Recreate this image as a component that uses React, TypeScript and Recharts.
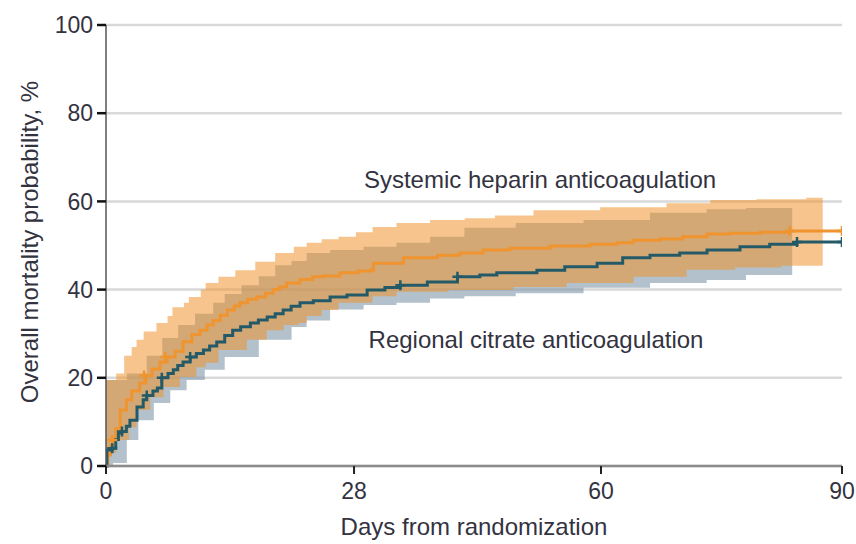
import React from "react";
import {
  ComposedChart,
  Area,
  Line,
  Scatter,
  XAxis,
  YAxis,
  CartesianGrid,
} from "recharts";

// x axis: the printed ticks 0 / 28 / 60 / 90 sit almost evenly spaced
const dayTicks = [0, 28, 60, 90];
const tickPos = [0, 30.33, 60.53, 90];
const pctTicks = [0, 20, 40, 60, 80, 100];

// Systemic heparin anticoagulation – cumulative mortality, %
const heparinDays = [0, 0.2, 0.5, 0.7, 1.1, 1.6, 2.3, 2.9, 3.8, 4.5, 5.2, 6.1, 6.9, 7.8, 8.7, 9.7, 10.6, 11.4, 12.1, 12.9, 13.7, 14.5, 15.1, 16.0, 17.0, 18.0, 18.9, 19.6, 20.4, 21.9, 23.3, 24.5, 26.4, 28.5, 30.1, 30.5, 34.4, 38.8, 41.7, 44.7, 48.2, 53.4, 58.6, 62.0, 64.0, 67.3, 70.2, 73.2, 76.1, 79.8, 83.5, 90];
const heparinPct = [0, 2.5, 4.5, 5.9, 8.5, 12.7, 15.0, 17.0, 18.8, 20.5, 22.0, 23.6, 24.7, 26.0, 28.2, 29.8, 30.8, 32.0, 33.0, 34.2, 35.4, 36.3, 37.0, 37.8, 38.3, 39.2, 40.0, 40.6, 41.5, 42.3, 42.9, 43.1, 43.8, 44.2, 44.4, 46.0, 47.2, 47.8, 48.3, 49.0, 49.4, 49.9, 50.3, 50.6, 51.2, 51.5, 52.0, 52.6, 52.8, 53.0, 53.3, 53.3];
const heparinCensorDays = [0.7, 4.3, 6.7, 83.5, 90];
const heparinCensorPct = [5.9, 20.5, 24.7, 53.3, 53.3];

// heparin 95% CI
const heparinCiDays = [0, 0.7, 1.6, 2.5, 2.7, 3.1, 3.8, 4.7, 5.3, 6.1, 6.9, 7.0, 8.0, 8.7, 8.9, 9.8, 10.6, 10.8, 11.7, 13.7, 15.5, 16.3, 17.4, 18.9, 19.3, 20.8, 21.6, 21.9, 23.4, 25.3, 27.2, 29.4, 31.4, 35.6, 40.1, 40.4, 44.3, 48.2, 49.1, 53.4, 57.7, 62.0, 66.1, 70.2, 71.1, 76.1, 77.3, 81.4, 83.5, 87.6];
const heparinCiLow = [0, 3, 5.9, 5.9, 8.8, 8.8, 12.7, 12.7, 15.6, 15.6, 17.9, 17.9, 17.9, 20.2, 20.2, 20.2, 22.4, 22.4, 23.4, 26.3, 26.3, 28.6, 28.6, 30.8, 30.8, 32, 32, 32.4, 34, 35.4, 37, 37, 38.5, 39.5, 39.5, 39.9, 39.9, 39.9, 40.6, 40.6, 41.5, 41.5, 42.9, 42.9, 44.5, 44.5, 45, 45, 45.4, 45.4];
const heparinCiHigh = [19.5, 19.5, 21, 25, 25, 27, 28.6, 30.5, 30.5, 32.4, 32.4, 34, 36, 36, 37, 38.3, 38.3, 40, 41.5, 42.9, 44.4, 44.4, 46.3, 46.3, 48.3, 48.3, 49.7, 49.7, 50.6, 51.4, 52, 53, 54.2, 55.1, 55.8, 55.8, 56.2, 56.8, 56.8, 58, 58, 58.7, 58.7, 59.6, 59.6, 60.3, 60.3, 60.5, 60.5, 60.8];

// Regional citrate anticoagulation – cumulative mortality, %
const citrateDays = [0, 0.1, 0.7, 1.1, 1.4, 1.8, 2.3, 2.7, 3.5, 4.2, 4.6, 5.3, 5.8, 6.3, 7.0, 7.6, 8.1, 8.7, 9.5, 10.2, 11.0, 11.7, 12.5, 13.4, 14.3, 15.2, 16.3, 17.2, 18.2, 19.1, 20.0, 20.9, 21.9, 23.4, 25.3, 27.2, 29.7, 32.0, 34.0, 37.5, 41.4, 44.3, 46.5, 51.7, 55.3, 59.5, 62.7, 66.1, 69.8, 73.2, 77.3, 81.0, 84.4, 90];
const citratePct = [0, 3.6, 4.0, 6.0, 7.5, 7.8, 9.0, 10.4, 13.4, 15.0, 16.0, 17.0, 17.7, 20.0, 21.0, 21.8, 22.8, 23.6, 24.7, 25.5, 26.3, 27.2, 28.1, 29.6, 30.8, 31.6, 32.4, 33.1, 33.8, 34.5, 35.4, 36.2, 37.0, 37.5, 38.3, 38.8, 39.9, 40.5, 41.0, 41.7, 42.9, 43.3, 43.8, 44.4, 45.2, 46.0, 47.2, 47.8, 48.3, 49.0, 49.7, 50.3, 50.8, 50.8];
const citrateCensorDays = [0.7, 1.8, 4.6, 6.3, 9.5, 34.0, 41.4, 84.4, 90];
const citrateCensorPct = [4.0, 7.8, 16.0, 20.0, 24.7, 41.0, 42.9, 50.8, 50.8];

// citrate 95% CI
const citrateCiDays = [0, 1.6, 3.1, 4.2, 5.0, 5.8, 6.9, 7.6, 8.7, 9.5, 10.6, 11.7, 12.5, 14.3, 16.3, 18.2, 20.0, 21.9, 23.4, 27.2, 31.4, 35.6, 40.1, 44.5, 53.4, 62.0, 70.2, 76.1, 80.0, 83.8];
const citrateCiLow = [0, 0.7, 5.9, 10.4, 10.4, 14.3, 14.3, 17.2, 17.2, 19.5, 19.5, 21.8, 21.8, 24.7, 24.7, 28.6, 28.6, 31.5, 33, 35.5, 36.5, 37, 38, 38.5, 39.2, 40.4, 41.5, 42.2, 43.3, 43.3];
const citrateCiHigh = [19.5, 19.5, 21, 21, 25, 25, 29, 29, 32, 32, 34.5, 34.5, 37, 39, 41, 43, 45.5, 46.5, 48.3, 49, 49.7, 50.6, 52, 54, 55.1, 55.8, 57.4, 58.2, 58.5, 58.5];

const FONT = "'Liberation Sans', Arial, sans-serif";
const TEXT = "#33333f";
const ORANGE = "#ef942e";
const TEAL = "#245a67";

// day -> position on the (piecewise) printed axis
const toPos = (d: number) => {
  for (let i = 0; i < dayTicks.length - 1; i++) {
    if (d <= dayTicks[i + 1]) {
      const f = (d - dayTicks[i]) / (dayTicks[i + 1] - dayTicks[i]);
      return tickPos[i] + f * (tickPos[i + 1] - tickPos[i]);
    }
  }
  return tickPos[tickPos.length - 1];
};

const curve = (days: number[], pct: number[]) =>
  days.map((d, i) => ({ u: toPos(d), y: pct[i] }));
const band = (days: number[], lo: number[], hi: number[]) =>
  days.map((d, i) => ({ u: toPos(d), range: [lo[i], hi[i]] }));

const heparinLine = curve(heparinDays, heparinPct);
const citrateLine = curve(citrateDays, citratePct);
const heparinBand = band(heparinCiDays, heparinCiLow, heparinCiHigh);
const citrateBand = band(citrateCiDays, citrateCiLow, citrateCiHigh);
const heparinCensor = curve(heparinCensorDays, heparinCensorPct);
const citrateCensor = curve(citrateCensorDays, citrateCensorPct);

const plus = (color: string) => (p: any) => (
  <path
    d={`M${p.cx - 5},${p.cy}h10M${p.cx},${p.cy - 5}v10`}
    stroke={color}
    strokeWidth={2.5}
    fill="none"
  />
);

const label = (cx: number, cy: number, rotate = 0): React.CSSProperties => ({
  position: "absolute",
  left: cx,
  top: cy,
  transform: `translate(-50%, -50%) rotate(${rotate}deg)`,
  whiteSpace: "nowrap",
  lineHeight: 1,
  fontSize: 24,
});

export default function App() {
  return (
    <div
      style={{
        position: "relative",
        width: 856,
        height: 544,
        background: "#fff",
        fontFamily: FONT,
        color: TEXT,
      }}
    >
      <style>{"body{margin:0}"}</style>
      <ComposedChart
        width={856}
        height={544}
        margin={{ top: 25, right: 14, bottom: 0, left: 0 }}
      >
        <CartesianGrid vertical={false} stroke="#d9d9d9" strokeWidth={2.5} />
        <XAxis
          type="number"
          dataKey="u"
          domain={[0, 90]}
          ticks={tickPos}
          tickFormatter={(_v: number, i: number) => String(dayTicks[i])}
          height={78}
          tickSize={8}
          tickMargin={9}
          axisLine={{ stroke: "#8c8c8c", strokeWidth: 2.5 }}
          tickLine={{ stroke: "#222", strokeWidth: 2 }}
          tick={{ fontSize: 23, fill: TEXT, fontFamily: FONT }}
          allowDataOverflow
        />
        <YAxis
          type="number"
          domain={[0, 100]}
          ticks={pctTicks}
          width={106}
          tickSize={9}
          tickMargin={4}
          axisLine={{ stroke: "#555", strokeWidth: 1.5 }}
          tickLine={{ stroke: "#111", strokeWidth: 2.5 }}
          tick={{ fontSize: 23, fill: TEXT, fontFamily: FONT }}
        />
        <Area
          data={citrateBand}
          dataKey="range"
          type="step"
          stroke="none"
          fill="#7f98a8"
          fillOpacity={0.6}
          isAnimationActive={false}
        />
        <Area
          data={heparinBand}
          dataKey="range"
          type="step"
          stroke="none"
          fill={ORANGE}
          fillOpacity={0.55}
          isAnimationActive={false}
        />
        <Line
          data={heparinLine}
          dataKey="y"
          type="stepAfter"
          stroke={ORANGE}
          strokeWidth={3}
          dot={false}
          isAnimationActive={false}
        />
        <Line
          data={citrateLine}
          dataKey="y"
          type="stepAfter"
          stroke={TEAL}
          strokeWidth={3}
          dot={false}
          isAnimationActive={false}
        />
        <Scatter
          data={heparinCensor}
          dataKey="y"
          shape={plus(ORANGE)}
          isAnimationActive={false}
        />
        <Scatter
          data={citrateCensor}
          dataKey="y"
          shape={plus(TEAL)}
          isAnimationActive={false}
        />
      </ComposedChart>
      <div style={label(540, 180)}>Systemic heparin anticoagulation</div>
      <div style={label(536, 340)}>Regional citrate anticoagulation</div>
      <div style={label(474, 527)}>Days from randomization</div>
      <div style={label(30, 242, -90)}>Overall mortality probability, %</div>
    </div>
  );
}
